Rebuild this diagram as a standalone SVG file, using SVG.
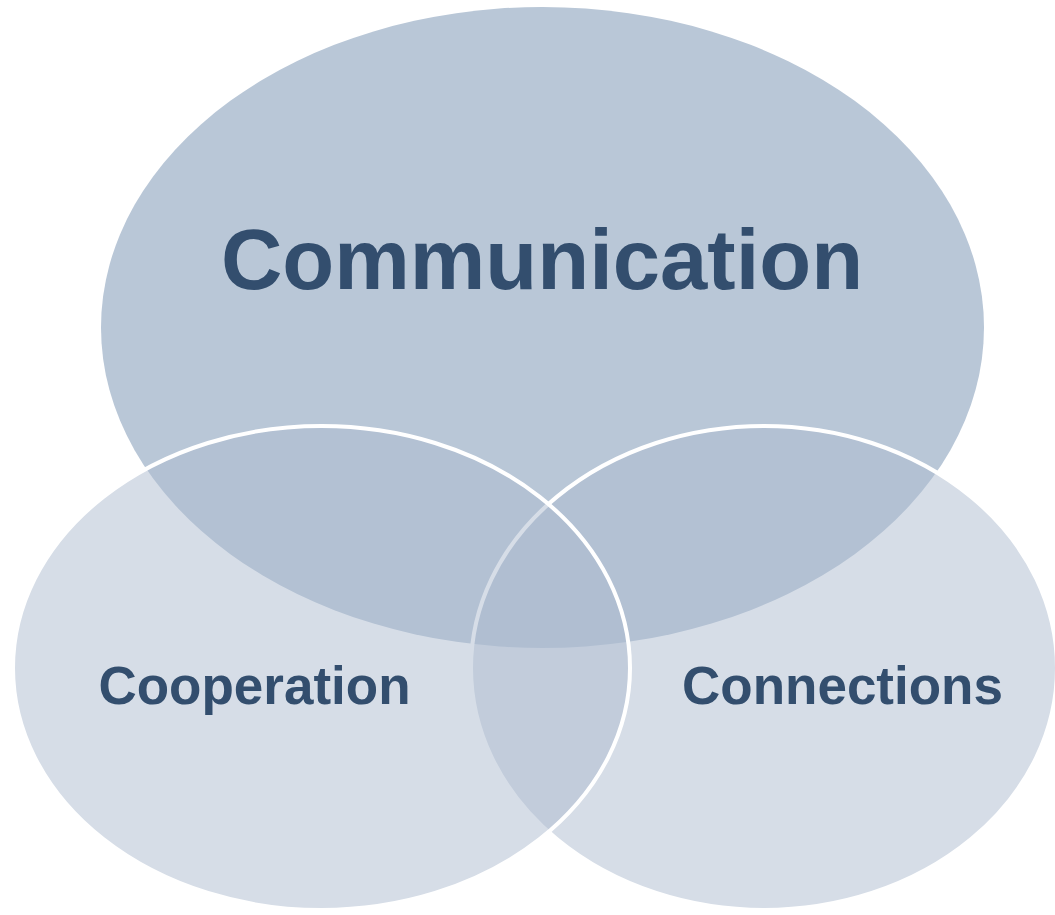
<svg xmlns="http://www.w3.org/2000/svg" width="1055" height="915" viewBox="0 0 1055 915">
<style>
.bg{fill:#ffffff}
.main{fill:#b9c7d7}
.sub{fill:#adbbcf;fill-opacity:0.5;stroke:#ffffff;stroke-width:4}
.lbl{font-family:"Liberation Sans",Arial,sans-serif;font-weight:bold;fill:#334e6e;text-anchor:middle}
</style>
<rect class="bg" x="0" y="0" width="1055" height="915"/>
<g id="node-communication">
<ellipse class="main" cx="542.5" cy="327.5" rx="441.5" ry="320.5"/>
</g>
<g id="node-connections">
<ellipse class="sub" cx="764" cy="668" rx="293" ry="242"/>
</g>
<g id="node-cooperation">
<ellipse class="sub" cx="321.5" cy="668" rx="308.5" ry="242"/>
</g>
<g id="labels">
<text class="lbl" x="542" y="289" font-size="85">Communication</text>
<text class="lbl" x="254.5" y="704" font-size="53">Cooperation</text>
<text class="lbl" x="842.5" y="704" font-size="53">Connections</text>
</g>
<g id="connectors"></g>
</svg>
